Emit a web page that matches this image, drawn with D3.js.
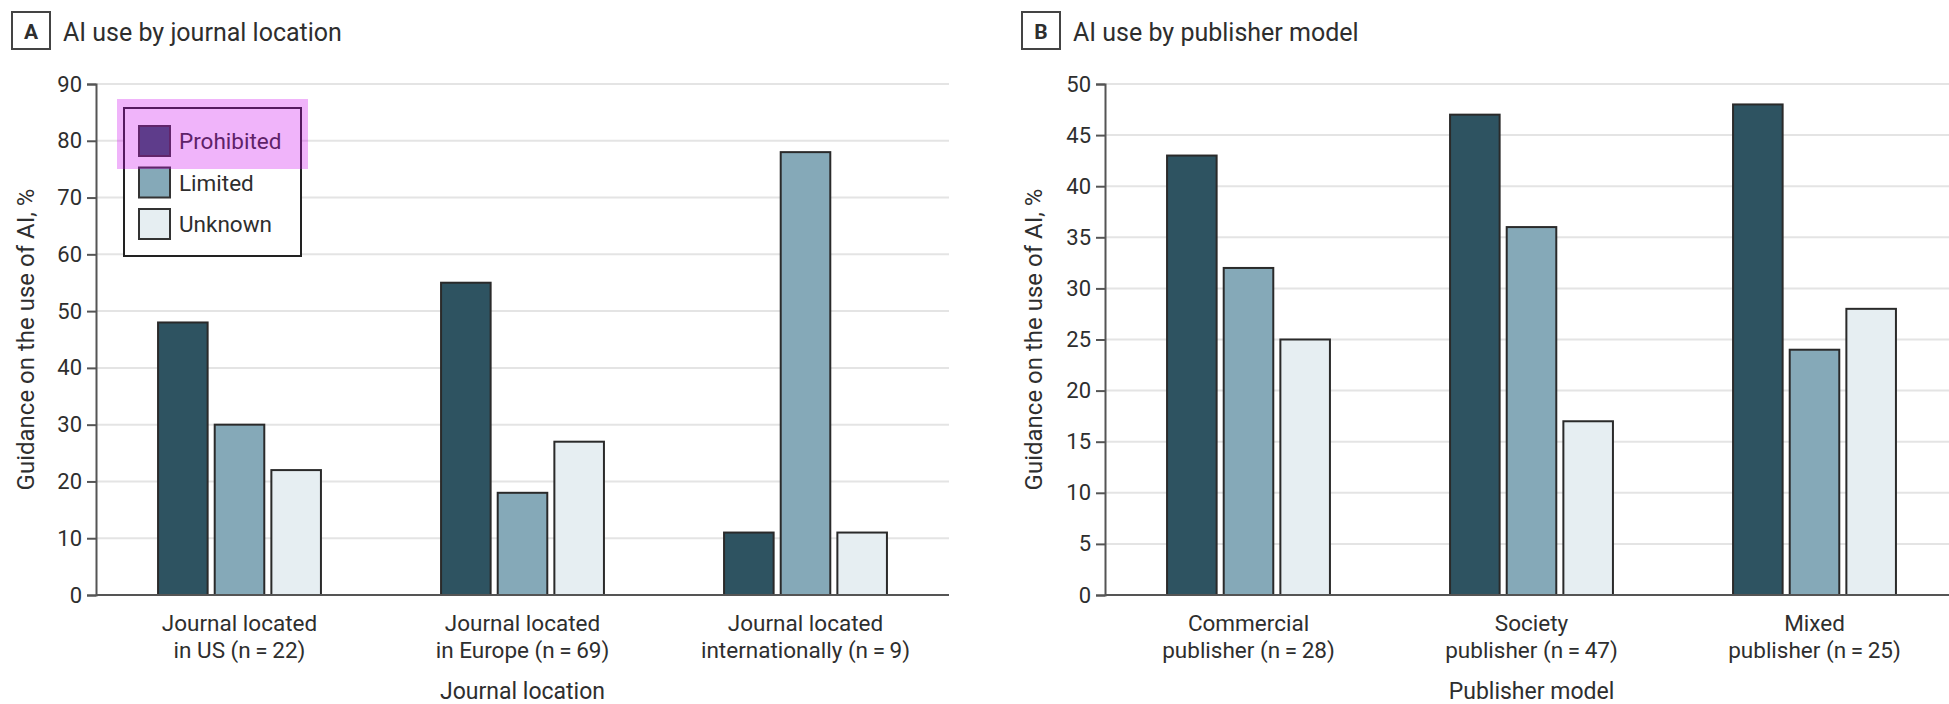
<!DOCTYPE html>
<html>
<head>
<meta charset="utf-8">
<script src="https://cdn.jsdelivr.net/npm/d3@7"></script>
<style>
  html, body { margin: 0; padding: 0; background: #fff; }
  svg { display: block; font-family: Roboto, "Open Sans", sans-serif; }
</style>
</head>
<body>
<svg id="chart" width="1949" height="704"></svg>
<script>
// series shared by both panels
const seriesNames = ["Prohibited", "Limited", "Unknown"];
const seriesColors = ["#2e5361", "#85a9b8", "#e6eef2"];

// panel A: journal location
const locationLabels = [
    ["Journal located", "in US (n\u2009=\u200922)"],
    ["Journal located", "in Europe (n\u2009=\u200969)"],
    ["Journal located", "internationally (n\u2009=\u20099)"]
];
const locationProhibited = [48, 55, 11];
const locationLimited = [30, 18, 78];
const locationUnknown = [22, 27, 11];
const locationTicks = [0, 10, 20, 30, 40, 50, 60, 70, 80, 90];

// panel B: publisher model
const publisherLabels = [
    ["Commercial", "publisher (n\u2009=\u200928)"],
    ["Society", "publisher (n\u2009=\u200947)"],
    ["Mixed", "publisher (n\u2009=\u200925)"]
];
const publisherProhibited = [43, 47, 48];
const publisherLimited = [32, 36, 24];
const publisherUnknown = [25, 17, 28];
const publisherTicks = [0, 5, 10, 15, 20, 25, 30, 35, 40, 45, 50];

const TEXT = "#2e2e2e";
const svg = d3.select("#chart");

function drawPanel(p) {
    const g = svg.append("g");
    const top = 84, bottom = 595;

    const y = d3.scaleLinear().domain([0, d3.max(p.ticks)]).range([bottom, top]);
    const x0 = d3.scaleBand().domain(d3.range(p.labels.length))
        .range([p.axisX + 2, p.axisX + 2 + 283 * p.labels.length]).padding(0);
    const x1 = d3.scaleBand().domain(seriesNames)
        .range([0, x0.bandwidth()]).paddingInner(0.125).paddingOuter(1.06);

    // panel letter + title
    g.append("rect").attr("x", p.letterX).attr("y", 12).attr("width", 38).attr("height", 37)
        .attr("fill", "#fff").attr("stroke", "#444").attr("stroke-width", 2);
    g.append("text").attr("x", p.letterX + 19).attr("y", 39).attr("text-anchor", "middle")
        .attr("font-size", 21).attr("font-weight", "bold").attr("fill", TEXT).text(p.letter);
    g.append("text").attr("x", p.letterX + 51).attr("y", 41)
        .attr("font-size", 25).attr("fill", TEXT).text(p.title);

    // gridlines
    g.append("g").selectAll("line").data(p.ticks.filter(t => t > 0)).join("line")
        .attr("x1", p.axisX).attr("x2", p.gridEnd)
        .attr("y1", d => y(d)).attr("y2", d => y(d))
        .attr("stroke", "#e4e4e4").attr("stroke-width", 2);

    // y axis
    const yAxis = g.append("g").attr("transform", `translate(${p.axisX},0)`)
        .call(d3.axisLeft(y).tickValues(p.ticks).tickSize(9).tickPadding(5));
    yAxis.select(".domain").attr("stroke", "#555").attr("stroke-width", 2);
    yAxis.selectAll(".tick line").attr("stroke", "#555").attr("stroke-width", 2);
    yAxis.selectAll(".tick text").attr("font-size", 22).attr("fill", TEXT)
        .attr("font-family", "Roboto, sans-serif");

    // bars
    const rows = p.labels.map((l, i) => ({ i, values: p.values.map(v => v[i]) }));
    g.append("g").selectAll("g").data(rows).join("g")
        .attr("transform", d => `translate(${x0(d.i)},0)`)
        .selectAll("rect").data(d => d.values.map((v, k) => ({ v, k }))).join("rect")
        .attr("x", d => x1(seriesNames[d.k]))
        .attr("y", d => y(d.v))
        .attr("width", x1.bandwidth())
        .attr("height", d => y(0) - y(d.v))
        .attr("fill", d => seriesColors[d.k])
        .attr("stroke", "#2a2a2a").attr("stroke-width", 2);

    // baseline
    g.append("line").attr("x1", p.axisX).attr("x2", p.gridEnd)
        .attr("y1", y(0)).attr("y2", y(0)).attr("stroke", "#555").attr("stroke-width", 2);

    // category labels
    const cat = g.append("g").selectAll("text").data(p.labels).join("text")
        .attr("text-anchor", "middle").attr("font-size", 22.5).attr("fill", TEXT);
    cat.append("tspan").attr("x", (d, i) => x0(i) + x0.bandwidth() / 2).attr("y", 631).text(d => d[0]);
    cat.append("tspan").attr("x", (d, i) => x0(i) + x0.bandwidth() / 2).attr("y", 658).text(d => d[1]);

    // axis titles
    g.append("text").attr("x", x0(1) + x0.bandwidth() / 2).attr("y", 699)
        .attr("text-anchor", "middle").attr("font-size", 23).attr("fill", TEXT).text(p.xTitle);
    g.append("text").attr("transform", `translate(${p.yTitleX},${(top + bottom) / 2}) rotate(-90)`)
        .attr("text-anchor", "middle").attr("font-size", 24).attr("fill", TEXT)
        .text("Guidance on the use of AI, %");

    return g;
}

const panelA = drawPanel({
    letter: "A", letterX: 12, title: "AI use by journal location",
    labels: locationLabels, values: [locationProhibited, locationLimited, locationUnknown],
    ticks: locationTicks, axisX: 96, gridEnd: 949, yTitleX: 34, xTitle: "Journal location"
});

drawPanel({
    letter: "B", letterX: 1022, title: "AI use by publisher model",
    labels: publisherLabels, values: [publisherProhibited, publisherLimited, publisherUnknown],
    ticks: publisherTicks, axisX: 1105, gridEnd: 1949, yTitleX: 1042, xTitle: "Publisher model"
});

// legend in panel A
const legend = panelA.append("g");
legend.append("rect").attr("x", 124).attr("y", 108).attr("width", 177).attr("height", 148)
    .attr("fill", "#fff").attr("stroke", "#222").attr("stroke-width", 2);
const items = legend.selectAll("g.item").data(seriesNames).join("g").attr("class", "item")
    .attr("transform", (d, i) => `translate(139,${126 + i * 41.5})`);
items.append("rect").attr("width", 31).attr("height", 30)
    .attr("fill", (d, i) => seriesColors[i]).attr("stroke", "#333").attr("stroke-width", 2);
items.append("text").attr("x", 40).attr("y", 23).attr("font-size", 22.5).attr("fill", TEXT).text(d => d);

// highlight over the first legend entry
legend.append("rect").attr("x", 117).attr("y", 99).attr("width", 191).attr("height", 70)
    .attr("fill", "rgb(205,5,238)").attr("fill-opacity", 0.3);
</script>
</body>
</html>
